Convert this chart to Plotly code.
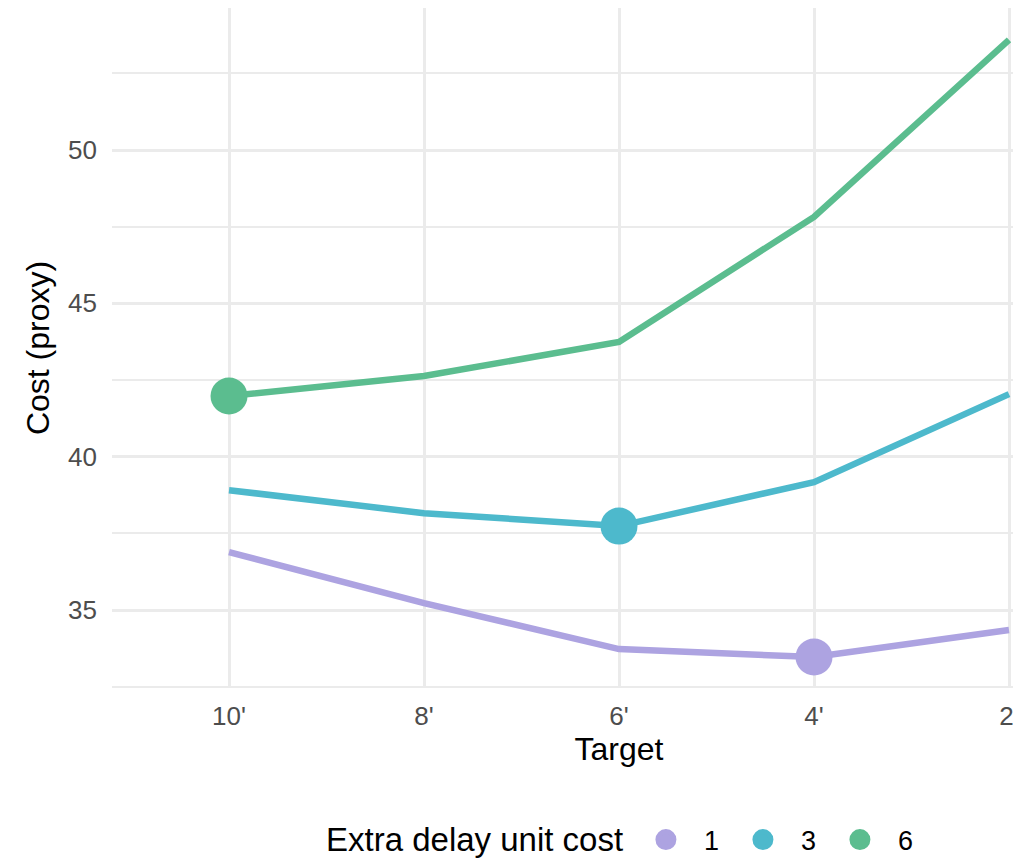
import plotly.graph_objects as go

# values
targets = ["10'", "8'", "6'", "4'", "2'"]
unit_costs = ["1", "3", "6"]
cost_1 = [36.89, 35.23, 33.73, 33.47, 34.35]
cost_3 = [38.91, 38.16, 37.74, 39.17, 42.04]
cost_6 = [41.98, 42.63, 43.74, 47.82, 53.59]
colors = ["#ADA3E1", "#4DB9CC", "#5BBD8F"]

series = [cost_1, cost_3, cost_6]

fig = go.Figure()

for name, vals, col in zip(unit_costs, series, colors):
    fig.add_trace(go.Scatter(
        x=targets, y=vals, mode="lines",
        line=dict(color=col, width=6.5),
        showlegend=False, hoverinfo="skip",
    ))

# big dot at the cheapest target of each series
for name, vals, col in zip(unit_costs, series, colors):
    i = vals.index(min(vals))
    fig.add_trace(go.Scatter(
        x=[targets[i]], y=[vals[i]], mode="markers",
        marker=dict(color=col, size=37),
        showlegend=False,
    ))

# legend-only entries
for name, col in zip(unit_costs, colors):
    fig.add_trace(go.Scatter(
        x=[None], y=[None], mode="markers", name=name,
        marker=dict(color=col, size=16, line=dict(color=col, width=5)),
    ))

# the original plot is wider than the window and gets cropped on the right;
# the page body also has an 8px default margin
grid = "#EBEBEB"
fig.update_layout(
    width=1230, height=851,
    margin=dict(l=104, r=112, t=0, b=171),
    plot_bgcolor="white", paper_bgcolor="white",
    font=dict(family="Liberation Sans, Arial, sans-serif", color="black"),
    xaxis=dict(
        type="category", categoryorder="array", categoryarray=targets,
        range=[-0.6, 4.6],
        showgrid=True, gridcolor=grid, gridwidth=2.5,
        zeroline=False, showline=False, ticks="",
        tickfont=dict(size=26, color="#4D4D4D"),
        ticklabelstandoff=10,
        title=dict(text="Target", font=dict(size=32), standoff=6),
    ),
    yaxis=dict(
        range=[32.46, 54.63],
        tickvals=[35, 40, 45, 50],
        showgrid=True, gridcolor=grid, gridwidth=2.5,
        minor=dict(dtick=2.5, tick0=32.5, showgrid=True, gridcolor=grid, gridwidth=1.6),
        zeroline=False, showline=False, ticks="",
        tickfont=dict(size=26, color="#4D4D4D"),
        ticklabelstandoff=14,
        title=dict(text="Cost (proxy)", font=dict(size=32), standoff=8),
    ),
    legend=dict(
        orientation="h",
        xref="container", yref="container",
        x=0.504, xanchor="left", y=0.0223, yanchor="middle",
        font=dict(size=27),
        itemwidth=66,
        entrywidth=16,
    ),
)

# legend title as a separate label so it lines up with the legend entries
fig.add_annotation(
    text="Extra delay unit cost", showarrow=False,
    xref="paper", yref="paper", x=0.5059, y=-0.2235,
    xanchor="right", yanchor="middle",
    font=dict(size=33, color="black"),
)

fig.write_html("out.html", post_script="document.body.style.overflow = 'hidden';")
